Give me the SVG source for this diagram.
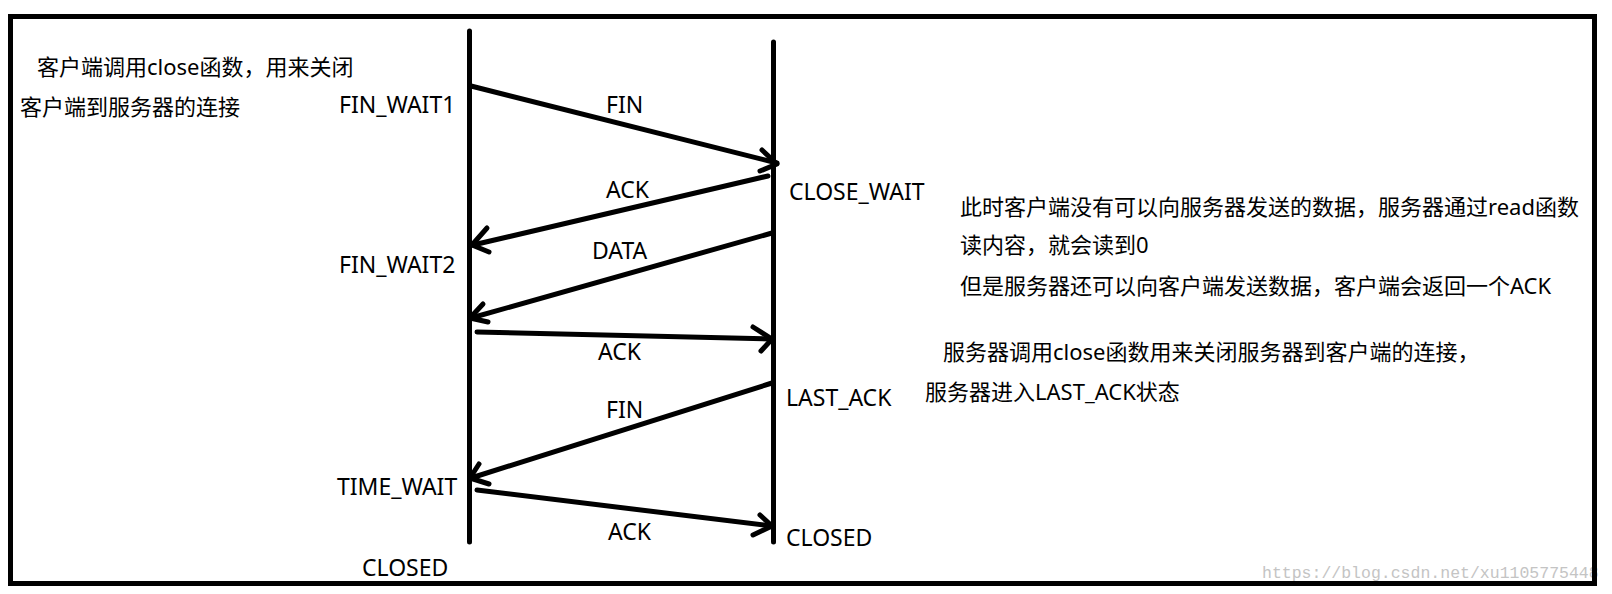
<svg xmlns="http://www.w3.org/2000/svg" width="1612" height="594" viewBox="0 0 1612 594">
<style>
.t{font-family:"Noto Sans","Noto Sans CJK SC",sans-serif;font-size:22px;fill:#000}
.l{font-family:"Noto Sans",sans-serif;font-size:23px;fill:#000}
.ln{stroke:#000;stroke-width:5;stroke-linecap:round;stroke-linejoin:round;fill:none}
.wm{font-family:"Liberation Mono",monospace;font-size:16.5px;fill:#c4c4c4}
</style>
<rect x="0" y="0" width="1612" height="594" fill="#fff"/>
<text class="wm" x="1262" y="578">https://blog.csdn.net/xu1105775448</text>
<rect x="10.5" y="16.5" width="1584" height="567" fill="none" stroke="#000" stroke-width="5"/>
<g id="client">
<line class="ln" x1="469.5" y1="31" x2="469.5" y2="542"/>
<text class="l" x="339" y="113">FIN_WAIT1</text>
<text class="l" x="339" y="273">FIN_WAIT2</text>
<text class="l" x="337" y="495">TIME_WAIT</text>
<text class="l" x="362" y="576">CLOSED</text>
</g>
<g id="server">
<line class="ln" x1="773.5" y1="42" x2="773.5" y2="542"/>
<text class="l" x="789" y="200">CLOSE_WAIT</text>
<text class="l" x="786" y="406">LAST_ACK</text>
<text class="l" x="786" y="546">CLOSED</text>
</g>
<g id="note-client">
<text class="t" x="37" y="75">客户端调用close函数，用来关闭</text>
<text class="t" x="20" y="115">客户端到服务器的连接</text>
</g>
<g id="note-server1">
<text class="t" x="960" y="215">此时客户端没有可以向服务器发送的数据，服务器通过read函数</text>
<text class="t" x="960" y="253">读内容，就会读到0</text>
<text class="t" x="960" y="294">但是服务器还可以向客户端发送数据，客户端会返回一个ACK</text>
</g>
<g id="note-server2">
<text class="t" x="943" y="360">服务器调用close函数用来关闭服务器到客户端的连接，</text>
<text class="t" x="925" y="400">服务器进入LAST_ACK状态</text>
</g>
<g id="connectors">
<path class="ln" d="M471,86 L777,163"/>
<path class="ln" d="M762,150 L777,164 L760,171"/>
<text class="l" x="606" y="113">FIN</text>
<path class="ln" d="M768,176 L473,245"/>
<path class="ln" d="M487,228 L472,245 L489,252"/>
<text class="l" x="606" y="198">ACK</text>
<path class="ln" d="M772,233 L471,318"/>
<path class="ln" d="M483,304 L470,318 L488,322"/>
<text class="l" x="592" y="259">DATA</text>
<path class="ln" d="M477,332 L772,339"/>
<path class="ln" d="M753,327 L772,339 L761,351"/>
<text class="l" x="598" y="360">ACK</text>
<path class="ln" d="M772,383 L471,478"/>
<path class="ln" d="M479,464 L470,478 L489,484"/>
<text class="l" x="606" y="418">FIN</text>
<path class="ln" d="M477,490 L772,526"/>
<path class="ln" d="M760,515 L772,526 L753,535"/>
<text class="l" x="608" y="540">ACK</text>
</g>
</svg>
